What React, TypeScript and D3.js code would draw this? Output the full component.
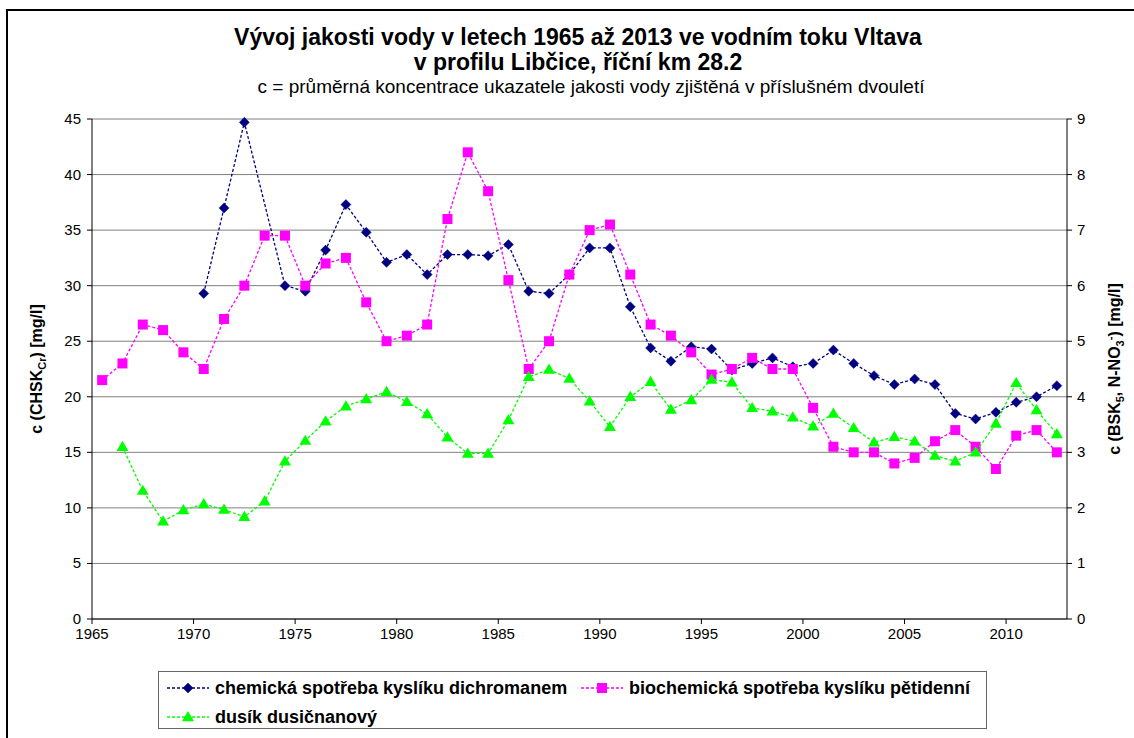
import React from "react";
import * as d3 from "d3";

// two-year periods, first year of each period
const periods = [
  1965, 1966, 1967, 1968, 1969, 1970, 1971, 1972, 1973, 1974, 1975, 1976,
  1977, 1978, 1979, 1980, 1981, 1982, 1983, 1984, 1985, 1986, 1987, 1988,
  1989, 1990, 1991, 1992, 1993, 1994, 1995, 1996, 1997, 1998, 1999, 2000,
  2001, 2002, 2003, 2004, 2005, 2006, 2007, 2008, 2009, 2010, 2011, 2012,
];

// CHSK_Cr [mg/l], left axis
const chsk: (number | null)[] = [
  null, null, null, null, null, 29.3, 37.0, 44.7, null, 30.0, 29.5, 33.2,
  37.3, 34.8, 32.1, 32.8, 31.0, 32.8, 32.8, 32.7, 33.7, 29.5, 29.3, 31.0,
  33.4, 33.4, 28.1, 24.4, 23.2, 24.5, 24.3, 22.4, 23.0, 23.5, 22.7, 23.0,
  24.2, 23.0, 21.9, 21.1, 21.6, 21.1, 18.5, 18.0, 18.6, 19.5, 20.0, 21.0,
];

// BSK_5 [mg/l], right axis
const bsk: (number | null)[] = [
  4.3, 4.6, 5.3, 5.2, 4.8, 4.5, 5.4, 6.0, 6.9, 6.9, 6.0, 6.4,
  6.5, 5.7, 5.0, 5.1, 5.3, 7.2, 8.4, 7.7, 6.1, 4.5, 5.0, 6.2,
  7.0, 7.1, 6.2, 5.3, 5.1, 4.8, 4.4, 4.5, 4.7, 4.5, 4.5, 3.8,
  3.1, 3.0, 3.0, 2.8, 2.9, 3.2, 3.4, 3.1, 2.7, 3.3, 3.4, 3.0,
];

// N-NO3 [mg/l], right axis
const nitrate: (number | null)[] = [
  null, 3.1, 2.31, 1.76, 1.96, 2.07, 1.97, 1.84, 2.12, 2.84, 3.21, 3.56,
  3.83, 3.96, 4.09, 3.91, 3.69, 3.27, 2.98, 2.98, 3.58, 4.36, 4.49, 4.33,
  3.92, 3.46, 4.0, 4.27, 3.77, 3.94, 4.31, 4.26, 3.8, 3.74, 3.63, 3.47,
  3.7, 3.44, 3.18, 3.28, 3.2, 2.94, 2.84, 3.0, 3.52, 4.25, 3.76, 3.33,
];

const xTicks = [1965, 1970, 1975, 1980, 1985, 1990, 1995, 2000, 2005, 2010];
const leftTicks = [0, 5, 10, 15, 20, 25, 30, 35, 40, 45];
const rightTicks = [0, 1, 2, 3, 4, 5, 6, 7, 8, 9];

const seriesNames = [
  "chemická spotřeba kyslíku dichromanem",
  "biochemická spotřeba kyslíku pětidenní",
  "dusík dusičnanový",
];

const W = 1134;
const H = 738;
const FONT = "'Liberation Sans', Arial, sans-serif";

const NAVY = "#000080";
const MAGENTA = "#ff00ff";
const GREEN = "#00ff00";

function Marker({ kind, x, y }: { kind: string; x: number; y: number }) {
  if (kind === "diamond") {
    const r = 5;
    return (
      <path
        d={`M${x},${y - r}L${x + r},${y}L${x},${y + r}L${x - r},${y}Z`}
        fill={NAVY}
        stroke={NAVY}
        strokeWidth={0.5}
      />
    );
  }
  if (kind === "square") {
    return <rect x={x - 5} y={y - 5} width={10} height={10} fill={MAGENTA} />;
  }
  const r = 6;
  return (
    <path
      d={`M${x},${y - r}L${x + r},${y + r * 0.7}L${x - r},${y + r * 0.7}Z`}
      fill={GREEN}
    />
  );
}

export default function App() {
  const left = 92;
  const right = 1067;
  const top = 119;
  const bottom = 619;

  const x = d3.scaleLinear().domain([1965, 2013]).range([left, right]);
  const yL = d3.scaleLinear().domain([0, 45]).range([bottom, top]);
  const yR = d3.scaleLinear().domain([0, 9]).range([bottom, top]);

  const series = [
    { values: chsk, y: yL, color: NAVY, marker: "diamond" },
    { values: bsk, y: yR, color: MAGENTA, marker: "square" },
    { values: nitrate, y: yR, color: GREEN, marker: "triangle" },
  ];

  return (
    <svg
      width={W}
      height={H}
      style={{ position: "absolute", left: 0, top: 0, background: "#fff" }}
      fontFamily={FONT}
    >
      <rect x={0} y={0} width={W} height={H} fill="#fff" />
      <rect x={7} y={10} width={W + 20} height={H + 20} fill="none" stroke="#000" strokeWidth={2} />

      {/* titles */}
      <text x={578} y={45} textAnchor="middle" fontSize={23} fontWeight="bold">
        Vývoj jakosti vody v letech 1965 až 2013 ve vodním toku Vltava
      </text>
      <text x={578} y={70} textAnchor="middle" fontSize={23} fontWeight="bold">
        v profilu Libčice, říční km 28.2
      </text>
      <text x={591} y={93} textAnchor="middle" fontSize={19}>
        c = průměrná koncentrace ukazatele jakosti vody zjištěná v příslušném dvouletí
      </text>

      {/* gridlines */}
      {leftTicks.map((t) => (
        <line key={"g" + t} x1={left} x2={right} y1={yL(t)} y2={yL(t)} stroke="#808080" strokeWidth={1} />
      ))}

      {/* axes */}
      <line x1={left} x2={left} y1={top} y2={bottom} stroke="#000" />
      <line x1={right} x2={right} y1={top} y2={bottom} stroke="#000" />
      <line x1={left} x2={right} y1={bottom} y2={bottom} stroke="#000" />

      {leftTicks.map((t) => (
        <g key={"l" + t}>
          <line x1={left - 5} x2={left} y1={yL(t)} y2={yL(t)} stroke="#000" />
          <text x={left - 11} y={yL(t) + 5} textAnchor="end" fontSize={15}>
            {t}
          </text>
        </g>
      ))}
      {rightTicks.map((t) => (
        <g key={"r" + t}>
          <line x1={right} x2={right + 5} y1={yR(t)} y2={yR(t)} stroke="#000" />
          <text x={right + 10} y={yR(t) + 5} textAnchor="start" fontSize={15}>
            {t}
          </text>
        </g>
      ))}
      {xTicks.map((t) => (
        <g key={"x" + t}>
          <line x1={x(t)} x2={x(t)} y1={bottom} y2={bottom + 5} stroke="#000" />
          <text x={x(t)} y={bottom + 20} textAnchor="middle" fontSize={15}>
            {t}
          </text>
        </g>
      ))}

      {/* axis titles */}
      <text
        transform={`translate(42,${(top + bottom) / 2}) rotate(-90)`}
        textAnchor="middle"
        fontSize={16}
        fontWeight="bold"
      >
        c (CHSK
        <tspan fontSize={11} dy={4}>Cr</tspan>
        <tspan dy={-4}>) [mg/l]</tspan>
      </text>
      <text
        transform={`translate(1120,${(top + bottom) / 2}) rotate(-90)`}
        textAnchor="middle"
        fontSize={16}
        fontWeight="bold"
      >
        c (BSK
        <tspan fontSize={11} dy={4}>5</tspan>
        <tspan dy={-4}>, N-NO</tspan>
        <tspan fontSize={11} dy={4}>3</tspan>
        <tspan fontSize={11} dy={-10}>-</tspan>
        <tspan dy={6}>) [mg/l]</tspan>
      </text>

      {/* series */}
      {series.map((s, si) => {
        const pts = periods
          .map((p, i) => ({ p, v: s.values[i] }))
          .filter((d) => d.v !== null) as { p: number; v: number }[];
        const line = d3
          .line<{ p: number; v: number }>()
          .x((d) => x(d.p + 0.5))
          .y((d) => s.y(d.v));
        return (
          <g key={"s" + si}>
            <path d={line(pts) || ""} fill="none" stroke={s.color} strokeWidth={1.3} strokeDasharray="3,2" />
            {pts.map((d) => (
              <Marker key={d.p} kind={s.marker} x={x(d.p + 0.5)} y={s.y(d.v)} />
            ))}
          </g>
        );
      })}

      {/* legend */}
      <rect x={158.5} y={671.5} width={828} height={57} fill="#fff" stroke="#666" strokeWidth={1} />
      {[
        { name: seriesNames[0], color: NAVY, marker: "diamond", lx: 167, ly: 688 },
        { name: seriesNames[1], color: MAGENTA, marker: "square", lx: 581, ly: 688 },
        { name: seriesNames[2], color: GREEN, marker: "triangle", lx: 167, ly: 717 },
      ].map((l) => (
        <g key={l.name}>
          <line x1={l.lx} x2={l.lx + 42} y1={l.ly} y2={l.ly} stroke={l.color} strokeWidth={1.3} strokeDasharray="3,2" />
          <Marker kind={l.marker} x={l.lx + 21} y={l.ly} />
          <text x={l.lx + 48} y={l.ly + 6} fontSize={18} fontWeight="bold">
            {l.name}
          </text>
        </g>
      ))}
    </svg>
  );
}
